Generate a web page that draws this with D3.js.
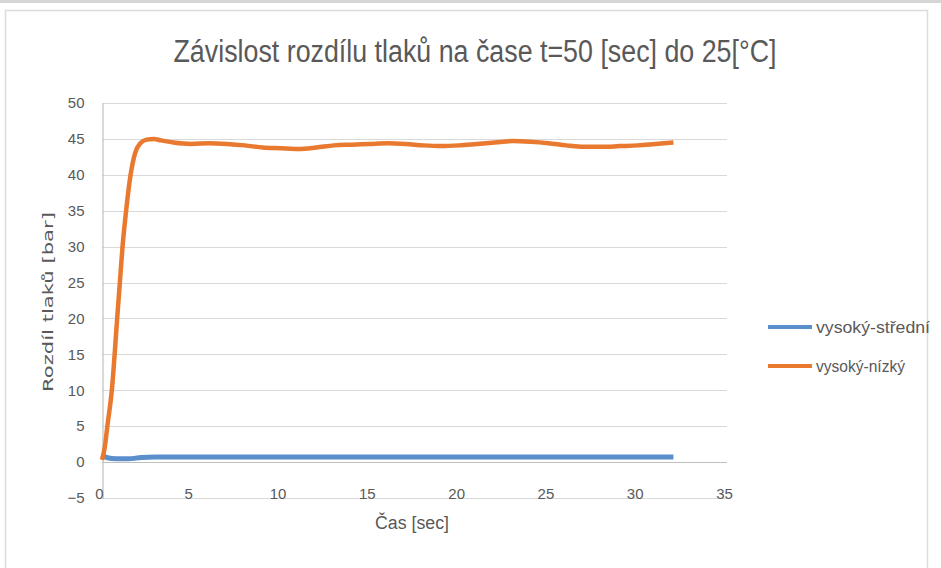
<!DOCTYPE html>
<html>
<head>
<meta charset="utf-8">
<script src="https://cdn.jsdelivr.net/npm/d3@7"></script>
<style>
  html, body { margin: 0; padding: 0; background: #fff; }
  svg { display: block; }
</style>
</head>
<body>
<div id="chart"></div>
<script>
  "use strict";

  // --- data ---
  var chartTitle = "Závislost rozdílu tlaků na čase t=50 [sec] do 25[°C]";
  var xTitle = "Čas [sec]";
  var yTitle = "Rozdíl tlaků [bar]";
  var seriesNames = ["vysoký-střední", "vysoký-nízký"];
  var legendWidths = [114, 89];
  var xTicks = [0, 5, 10, 15, 20, 25, 30, 35];
  var yTicks = [-5, 0, 5, 10, 15, 20, 25, 30, 35, 40, 45, 50];

  // vysoký-střední
  var tMid = [0, 0.3, 0.8, 1.5, 2.2, 3, 5, 10, 15, 20, 25, 30, 32];
  var vMid = [1.0, 0.6, 0.45, 0.45, 0.65, 0.7, 0.7, 0.7, 0.7, 0.7, 0.7, 0.7, 0.7];

  // vysoký-nízký
  var tLow = [0, 0.15, 0.3, 0.55, 0.85, 1.0, 1.15, 1.35, 1.6, 1.85, 2.15, 2.5, 2.9, 3.3,
              4, 5, 6, 7, 8, 9, 10, 11, 12, 13, 14, 15, 16, 17, 18, 19, 20, 21, 22,
              23, 24, 25, 26, 27, 28, 29, 30, 31, 32];
  var vLow = [0.3, 2, 5, 10, 20, 25, 30, 35, 40, 43, 44.4, 44.9, 45.0, 44.8,
              44.5, 44.3, 44.4, 44.3, 44.1, 43.8, 43.7, 43.6, 43.8, 44.1, 44.2, 44.3, 44.4, 44.3, 44.1, 44.0, 44.1,
              44.3, 44.5, 44.7, 44.6, 44.4, 44.1, 43.9, 43.9, 44.0, 44.1, 44.3, 44.5];

  var colors = ["#5b8fcb", "#e8792f"];

  var W = 941, H = 568;
  var narrow = "'Liberation Sans Narrow', 'Liberation Sans', Arial, sans-serif";

  var svg = d3.select("#chart").append("svg")
    .attr("width", W)
    .attr("height", H);

  // page strip + chart frame
  svg.append("rect").attr("x", 0).attr("y", 0).attr("width", W).attr("height", 3)
    .attr("fill", "#d6d6d6");
  svg.append("rect").attr("x", 5.5).attr("y", 10.5).attr("width", 922).attr("height", 600)
    .attr("fill", "#fff").attr("stroke", "#dcdcdc").attr("stroke-width", 1.5);

  var x = d3.scaleLinear().domain([0, 35]).range([102, 727]);
  var y = d3.scaleLinear().domain([-5, 50]).range([498, 103]);

  // gridlines
  svg.append("g")
    .selectAll("line")
    .data(yTicks)
    .enter().append("line")
    .attr("x1", x(0)).attr("x2", x(35))
    .attr("y1", function (d) { return Math.round(y(d)) + 0.5; })
    .attr("y2", function (d) { return Math.round(y(d)) + 0.5; })
    .attr("stroke", function (d) { return d === 0 ? "#bfbfbf" : "#d9d9d9"; })
    .attr("stroke-width", 1.2);

  // y axis
  var yAxis = svg.append("g")
    .attr("transform", "translate(102.5,0)")
    .call(d3.axisLeft(y).tickValues(yTicks).tickSize(0).tickPadding(18));
  yAxis.select(".domain").attr("stroke", "#bfbfbf").attr("stroke-width", 1.2);
  yAxis.selectAll("text")
    .attr("fill", "#595959")
    .style("font-family", narrow)
    .style("font-size", "15px");

  // x axis (labels sit at the bottom of the plot)
  var xAxis = svg.append("g")
    .attr("transform", "translate(-3," + (y(-5) + 1) + ")")
    .call(d3.axisBottom(x).tickValues(xTicks).tickSize(0).tickPadding(0));
  xAxis.select(".domain").remove();
  xAxis.selectAll("text")
    .attr("dy", "0")
    .attr("fill", "#595959")
    .style("font-family", narrow)
    .style("font-size", "15px");

  // lines
  var line = d3.line()
    .x(function (d) { return x(d[0]); })
    .y(function (d) { return y(d[1]); })
    .curve(d3.curveMonotoneX);

  var series = [
    d3.zip(tMid, vMid),
    d3.zip(tLow, vLow)
  ];

  svg.append("g")
    .selectAll("path")
    .data(series)
    .enter().append("path")
    .attr("d", line)
    .attr("fill", "none")
    .attr("stroke", function (d, i) { return colors[i]; })
    .attr("stroke-width", function (d, i) { return i === 0 ? 5 : 4.5; })
    .attr("stroke-linejoin", "round");

  // title
  svg.append("text")
    .attr("x", 475).attr("y", 62)
    .attr("text-anchor", "middle")
    .attr("textLength", 603)
    .attr("lengthAdjust", "spacingAndGlyphs")
    .attr("fill", "#595959")
    .style("font-family", narrow)
    .style("font-size", "31px")
    .text(chartTitle);

  // axis titles
  svg.append("text")
    .attr("transform", "translate(53,302) rotate(-90)")
    .attr("text-anchor", "middle")
    .attr("textLength", 180)
    .attr("lengthAdjust", "spacingAndGlyphs")
    .attr("fill", "#595959")
    .style("font-family", "'DejaVu Sans', Verdana, sans-serif")
    .style("font-size", "14px")
    .text(yTitle);

  svg.append("text")
    .attr("x", 412).attr("y", 529)
    .attr("text-anchor", "middle")
    .attr("textLength", 74)
    .attr("lengthAdjust", "spacingAndGlyphs")
    .attr("fill", "#595959")
    .style("font-family", narrow)
    .style("font-size", "18px")
    .text(xTitle);

  // legend
  var legend = svg.append("g")
    .selectAll("g")
    .data(seriesNames)
    .enter().append("g")
    .attr("transform", function (d, i) { return "translate(768," + (327 + i * 39) + ")"; });

  legend.append("line")
    .attr("x1", 0).attr("x2", 44)
    .attr("y1", 0).attr("y2", 0)
    .attr("stroke", function (d, i) { return colors[i]; })
    .attr("stroke-width", 4);

  legend.append("text")
    .attr("x", 48).attr("y", 6)
    .attr("textLength", function (d, i) { return legendWidths[i]; })
    .attr("lengthAdjust", "spacingAndGlyphs")
    .attr("fill", "#595959")
    .style("font-family", narrow)
    .style("font-size", "17px")
    .text(function (d) { return d; });
</script>
</body>
</html>
